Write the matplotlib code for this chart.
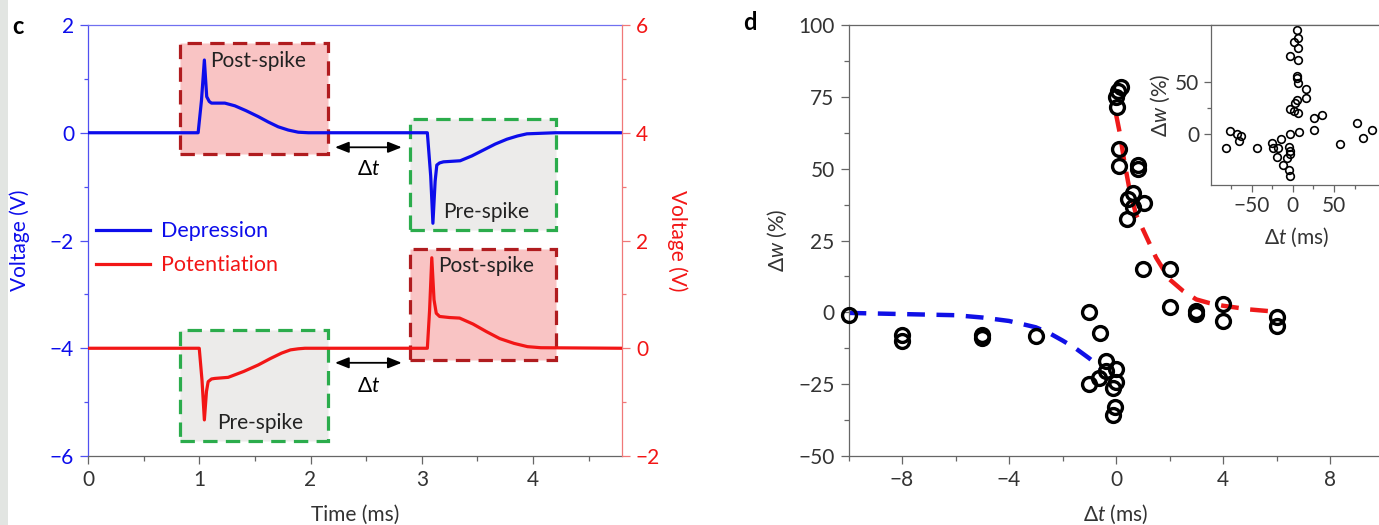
import numpy as np
import matplotlib
matplotlib.use('Agg')
import matplotlib.pyplot as plt
from matplotlib.patches import Rectangle
from matplotlib.ticker import MultipleLocator, FixedLocator

plt.rcParams['font.family'] = ['Lato', 'DejaVu Sans']
plt.rcParams.update({'font.size': 15,
                     'mathtext.fontset': 'custom',
                     'mathtext.rm': 'Lato',
                     'mathtext.it': 'Lato:italic',
                     'mathtext.fallback': 'stixsans'})

# panel c: spike pair waveforms
dep_t = [0, 0.99, 1.02, 1.046, 1.067, 1.09, 1.11, 1.23, 1.32, 1.42, 1.53, 1.62, 1.71, 1.80, 1.89, 1.98,
         3.05, 3.08, 3.10, 3.12, 3.135, 3.16, 3.195, 3.345, 3.45, 3.555, 3.66, 3.765, 3.86, 3.945, 4.2, 4.8]
dep_v = [0, 0, 0.6, 1.35, 0.67, 0.58, 0.55, 0.55, 0.50, 0.41, 0.30, 0.20, 0.11, 0.05, 0.01, 0,
         0, -0.8, -1.68, -0.9, -0.6, -0.56, -0.54, -0.52, -0.43, -0.32, -0.21, -0.12, -0.06, -0.02, 0, 0]
pot_t = [0, 1.0, 1.025, 1.046, 1.065, 1.08, 1.11, 1.14, 1.26, 1.4, 1.53, 1.64, 1.74, 1.82, 1.89, 1.95,
         3.05, 3.07, 3.09, 3.11, 3.13, 3.16, 3.25, 3.34, 3.46, 3.58, 3.70, 3.83, 3.95, 4.07, 4.8]
pot_v = [0, 0, -0.6, -1.33, -0.8, -0.62, -0.57, -0.56, -0.54, -0.43, -0.31, -0.19, -0.09, -0.03, -0.01, 0,
         0, 0.7, 1.68, 0.9, 0.65, 0.59, 0.57, 0.56, 0.45, 0.31, 0.18, 0.09, 0.03, 0.01, 0]

# panel d: STDP measurements and fits
dt_ms = [-10, -8, -8, -5, -5, -3, -1, -1, -0.6, -0.62, -0.37, -0.37, 0, 0, -0.1, -0.04, -0.1,
         0.17, 0.08, 0, 0.05, 0.11, 0.11, 0.83, 0.83, 0.64, 0.43, 1.03, 0.64, 0.4,
         1.0, 2.0, 2.0, 3.0, 3.0, 4.0, 4.0, 6.0, 6.0]
dw_pct = [-1, -8, -10, -7.8, -9, -8.4, 0, -25, -7.3, -22.7, -16.8, -20.3, -19.7, -24.4, -26.4, -33, -35.7,
          78.5, 77, 75, 71.3, 56.9, 50.8, 51.4, 49.9, 41.7, 39.4, 37.9, 36.7, 32.4,
          15.1, 15.1, 1.7, 0.5, -0.5, 2.8, -3.1, -1.6, -4.6]
fit_dep_dt = [-10, -9, -8, -7, -6, -5, -4, -3, -2.5, -2, -1.5, -1, -0.55]
fit_dep_dw = [-0.2, -0.4, -0.6, -0.8, -1.0, -1.8, -3.0, -5.2, -7.2, -9.8, -12.6, -16, -19.5]
fit_pot_dt = [0, 0.15, 0.3, 0.5, 0.75, 1.0, 1.25, 1.5, 2.0, 2.5, 3.0, 3.5, 4.0, 5.0, 6.0]
fit_pot_dw = [69, 62, 53, 43, 34, 29, 24, 19, 11.5, 7.5, 4.5, 3.2, 2.3, 1.0, 0.2]

# inset: wider time range
inset_dt = [5.6, 0.8, 6.4, 6.8, -3.3, 6.8, 4.8, 5.6, 6.8, 16.1, 16.1, 5.6, 2.8, -4.1, 6.4, 0.8,
            25.9, 35.6, 77.7, 25.9, 7.3, -4.1, 95.9, 85.7, 57.4, -76, -68, -63, -64.8, -81, -43.7,
            -25.5, -14.6, -24.3, -17.5, -5.3, -3.3, -19.4, -4.1, -7.3, -12.1, -5.3, -4.1]
inset_dw = [99.1, 87.4, 91.8, 81.7, 74.7, 70.3, 55.4, 53.2, 48.5, 42.8, 34.2, 32.6, 29.5, 23.8, 20, 22.4,
            15.2, 18.3, 11, 4.1, 1.9, 0.3, 4.1, -2.9, -9.2, 3.1, 0.3, -1.3, -6.1, -12.4, -12.4,
            -8, -4.2, -13.3, -12.4, -11.8, -15.6, -21.3, -18.7, -22.8, -29.2, -33.3, -39.6]
inset_xticks = [-50, 0, 50]
inset_yticks = [0, 50]

blue = '#0d0deb'
red = '#f21616'
dark_red = '#b01c1f'
green = '#2bac4c'

fig = plt.figure(figsize=(13.79, 5.25), dpi=100)
fig.patches.append(Rectangle((0, 0), 8 / 1379, 1, transform=fig.transFigure,
                             facecolor='#e2e5e2', edgecolor='none', zorder=-5))

# ---------------- panel c
ax = fig.add_axes([0.0638, 0.1314, 0.3873, 0.821])
ax2 = ax.twinx()
ax.set_xlim(0, 4.8)
ax.set_ylim(-6, 2)
ax2.set_ylim(-2, 6)

boxes = [(0.83, 2.16, -0.39, 1.67, dark_red, '#f9c4c4'),
         (2.89, 4.21, -4.21, -2.15, dark_red, '#f9c4c4'),
         (2.89, 4.21, -1.8, 0.26, green, '#ecebea'),
         (0.83, 2.16, -5.72, -3.67, green, '#ecebea')]
for t0, t1, v0, v1, ec, fc in boxes:
    ax.add_patch(Rectangle((t0, v0), t1 - t0, v1 - v0, facecolor=fc, edgecolor=ec,
                           lw=2.3, ls=(0, (4.5, 2.6)), zorder=1))

ax.text(1.53, 1.33, 'Post-spike', ha='center', va='center', fontsize=15, color='#222222', zorder=3)
ax.text(3.58, -1.48, 'Pre-spike', ha='center', va='center', fontsize=15, color='#222222', zorder=3)
ax.text(3.58, -2.47, 'Post-spike', ha='center', va='center', fontsize=15, color='#222222', zorder=3)
ax.text(1.55, -5.39, 'Pre-spike', ha='center', va='center', fontsize=15, color='#222222', zorder=3)

l1, = ax.plot(dep_t, dep_v, color=blue, lw=2.3, zorder=4, label='Depression')
l2, = ax2.plot(pot_t, pot_v, color=red, lw=2.3, zorder=4, label='Potentiation')

for y_arrow, y_txt in [(-0.27, -0.68), (-4.27, -4.7)]:
    ax.annotate('', xy=(2.22, y_arrow), xytext=(2.82, y_arrow),
                arrowprops=dict(arrowstyle='<|-|>,head_length=0.55,head_width=0.22',
                                color='black', lw=1.3, shrinkA=0, shrinkB=0))
    ax.text(2.52, y_txt, r'$\Delta t$', ha='center', va='center', fontsize=15)

leg = ax.legend(handles=[l1, l2], loc='upper left', bbox_to_anchor=(0.015, 0.545),
                frameon=False, handlelength=2.5, handletextpad=0.5, labelspacing=0.66,
                borderpad=0, borderaxespad=0, fontsize=15.5, labelcolor='linecolor')

ax.xaxis.set_major_locator(MultipleLocator(1))
ax.xaxis.set_minor_locator(MultipleLocator(0.5))
ax.yaxis.set_major_locator(MultipleLocator(2))
ax.yaxis.set_minor_locator(MultipleLocator(1))
ax2.yaxis.set_major_locator(MultipleLocator(2))
ax2.yaxis.set_minor_locator(MultipleLocator(1))

ax.spines['left'].set_color('#5050f0')
ax.spines['top'].set_color('#7070f0')
ax.spines['bottom'].set_color('#666666')
ax2.spines['right'].set_color('#f07878')
for s in ['left', 'top', 'bottom']:
    ax2.spines[s].set_visible(False)
ax.spines['right'].set_visible(False)
for sp in list(ax.spines.values()) + list(ax2.spines.values()):
    sp.set_linewidth(0.9)

ax.tick_params(axis='y', which='major', colors='#5050f0', labelcolor=blue, length=6, width=0.9, pad=4)
ax.tick_params(axis='y', which='minor', colors='#5050f0', length=3, width=0.9)
ax.tick_params(axis='x', which='major', colors='#666666', labelcolor='#333333', length=6, width=0.9, pad=4)
ax.tick_params(axis='x', which='minor', colors='#666666', length=3.5, width=0.9)
ax2.tick_params(axis='y', which='major', colors='#f07878', labelcolor=red, length=6, width=0.9, pad=4)
ax2.tick_params(axis='y', which='minor', colors='#f07878', length=3, width=0.9)

ax.set_xlabel('Time (ms)', color='#333333', labelpad=11)
ax.set_ylabel('Voltage (V)', color=blue, labelpad=14)
ax2.set_ylabel('Voltage (V)', color=red, rotation=270, labelpad=20)

fig.text(12 / 1379, 1 - 27 / 525, 'c', fontsize=17, fontweight='bold', va='center', ha='left')

# ---------------- panel d
axd = fig.add_axes([848.5 / 1379, 0.1314, 535 / 1379, 0.821])
axd.set_xlim(-10, 10)
axd.set_ylim(-50, 100)
axd.plot(fit_dep_dt, fit_dep_dw, color='#1010e6', lw=3.2, dashes=(4, 2.6), zorder=2)
axd.plot(fit_pot_dt, fit_pot_dw, color='#ee1a1a', lw=3.2, dashes=(4, 2.6), zorder=2)
axd.plot(dt_ms, dw_pct, 'o', mfc='none', mec='black', ms=10, mew=2.4, zorder=3, clip_on=False)

axd.xaxis.set_major_locator(MultipleLocator(4))
axd.xaxis.set_minor_locator(MultipleLocator(2))
axd.yaxis.set_major_locator(MultipleLocator(25))
axd.yaxis.set_minor_locator(MultipleLocator(12.5))
axd.spines['right'].set_visible(False)
for sp in axd.spines.values():
    sp.set_color('#666666')
    sp.set_linewidth(0.9)
axd.tick_params(which='major', colors='#666666', labelcolor='#333333', length=6, width=0.9, pad=4)
axd.tick_params(which='minor', colors='#666666', length=3.5, width=0.9)
axd.set_xlabel(r'$\Delta \mathit{t}$ (ms)', color='#333333', labelpad=9)
axd.set_ylabel(r'$\Delta \mathit{w}$ (%)', color='#333333', labelpad=7)

fig.text(743 / 1379, 1 - 22 / 525, 'd', fontsize=17, fontweight='bold', va='center', ha='left')

# inset
axi = fig.add_axes([1210.5 / 1379, 0.6476, 173 / 1379, 0.3048])
axi.set_xlim(-100, 110)
axi.set_ylim(-48, 104)
axi.plot(inset_dt, inset_dw, 'o', mfc='none', mec='black', ms=5.5, mew=1.2)
axi.xaxis.set_major_locator(FixedLocator(inset_xticks))
axi.xaxis.set_minor_locator(FixedLocator([-75, -25, 25, 75]))
axi.yaxis.set_major_locator(FixedLocator(inset_yticks))
axi.yaxis.set_minor_locator(FixedLocator([25]))
axi.spines['right'].set_visible(False)
for sp in axi.spines.values():
    sp.set_color('#666666')
    sp.set_linewidth(0.9)
axi.tick_params(which='major', colors='#666666', labelcolor='#333333', length=5, width=0.9, pad=3)
axi.tick_params(which='minor', colors='#666666', length=3, width=0.9)
axi.set_xlabel(r'$\Delta \mathit{t}$ (ms)', color='#333333', labelpad=7)
axi.set_ylabel(r'$\Delta \mathit{w}$ (%)', color='#333333', labelpad=2)

fig.savefig('out.png', dpi=100)
